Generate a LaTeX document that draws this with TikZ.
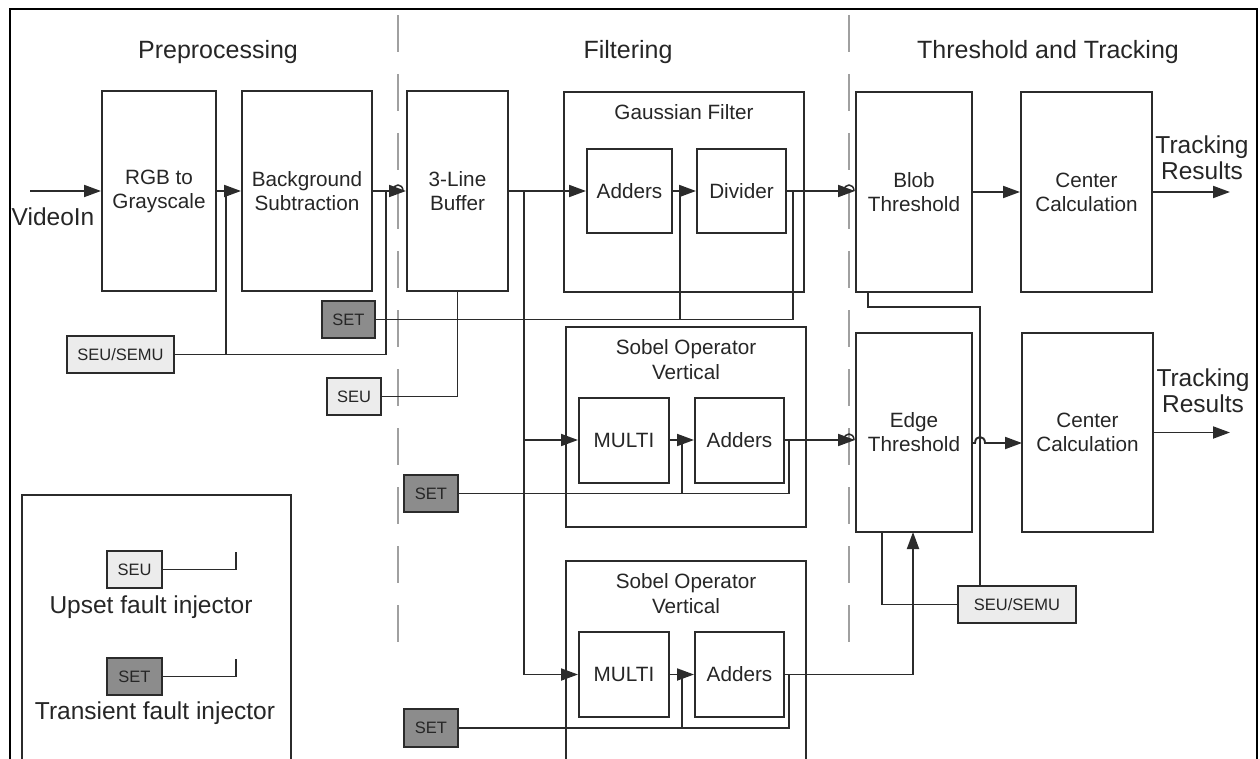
\documentclass[tikz,border=0pt]{standalone}
\usepackage{fontspec}
\setmainfont{Liberation Sans}
\usetikzlibrary{arrows.meta}
\definecolor{seufill}{HTML}{ECECEC}
\definecolor{setfill}{HTML}{8C8C8C}
\definecolor{linec}{HTML}{2B2B2B}
\definecolor{txtc}{HTML}{262626}
\definecolor{sepc}{HTML}{A0A0A0}
\begin{document}
\begin{tikzpicture}[x=1pt,y=-1pt,
  blk/.style={draw=linec,line width=2pt,inner sep=0pt,align=center,text=txtc,
    font=\fontsize{20.7}{24}\selectfont},
  grp/.style={draw=linec,line width=2pt,inner sep=0pt},
  ttl/.style={text=txtc,align=center,inner sep=0pt,font=\fontsize{20.7}{25}\selectfont},
  sect/.style={text=txtc,inner sep=0pt,font=\fontsize{25}{30}\selectfont},
  lbl/.style={text=txtc,align=center,inner sep=0pt,font=\fontsize{24.5}{26}\selectfont},
  seubox/.style={draw=linec,line width=1.8pt,fill=seufill,inner sep=0pt,text=txtc,
    font=\fontsize{16.5}{18}\selectfont},
  setbox/.style={draw=linec,line width=1.8pt,fill=setfill,inner sep=0pt,text=txtc,
    font=\fontsize{16.5}{18}\selectfont},
  conn/.style={draw=linec,line width=1.9pt},
  arr/.style={conn,-{Triangle[length=17pt,width=12pt]}},
  sepline/.style={draw=sepc,line width=1.6pt,dash pattern=on 37pt off 22pt},
  hop/.style={draw=linec,line width=1.5pt}]
\useasboundingbox (0,0) rectangle (1260,759);

% outer frame
\draw[draw=black,line width=2pt] (10,765) -- (10,9) -- (1257,9) -- (1257,765);

% separators
\draw[sepline] (398,15) -- (398,655);
\draw[sepline] (849,15) -- (849,655);

% section titles
\node[sect] (tpre) at (218,52) {Preprocessing};
\node[sect] (tfil) at (628,52) {Filtering};
\node[sect] (ttrk) at (1048,52) {Threshold and Tracking};

% group boxes
\node[grp,minimum width=240pt,minimum height=200pt] (gauss) at (684,192) {};
\node[ttl] (gtitle) at (684,112) {Gaussian Filter};
\node[grp,minimum width=240pt,minimum height=200pt] (sob1) at (686,427) {};
\node[ttl] (s1title) at (686,360) {Sobel Operator\\Vertical};
\node[grp,minimum width=240pt,minimum height=229pt] (sob2) at (686,675.5) {};
\node[ttl] (s2title) at (686,594) {Sobel Operator\\Vertical};
\node[grp,minimum width=269pt,minimum height=300pt] (legend) at (156.5,645) {};

% blocks
\node[blk,minimum width=114pt,minimum height=200pt] (rgb) at (159,191) {RGB to\\Grayscale};
\node[blk,minimum width=130pt,minimum height=200pt] (bg) at (307,191) {Background\\Subtraction};
\node[blk,minimum width=101pt,minimum height=200pt] (buf) at (457.5,191) {3-Line\\Buffer};
\node[blk,minimum width=85pt,minimum height=84pt] (gadd) at (629.5,191) {Adders};
\node[blk,minimum width=89pt,minimum height=84pt] (gdiv) at (741.5,191) {Divider};
\node[blk,minimum width=116pt,minimum height=200pt] (blob) at (914,192) {Blob\\Threshold};
\node[blk,minimum width=131pt,minimum height=200pt] (cc1) at (1086.5,192) {Center\\Calculation};
\node[blk,minimum width=90pt,minimum height=85pt] (m1) at (624,440) {MULTI};
\node[blk,minimum width=89pt,minimum height=85pt] (a1) at (739.5,440) {Adders};
\node[blk,minimum width=90pt,minimum height=85pt] (m2) at (624,674.5) {MULTI};
\node[blk,minimum width=89pt,minimum height=85pt] (a2) at (739.5,674.5) {Adders};
\node[blk,minimum width=116pt,minimum height=199pt] (edge) at (914,432.5) {Edge\\Threshold};
\node[blk,minimum width=131pt,minimum height=199pt] (cc2) at (1087.5,432.5) {Center\\Calculation};

% injectors
\node[seubox,minimum width=107pt,minimum height=37pt] (semu1) at (120.5,354.5) {SEU/SEMU};
\node[setbox,minimum width=53pt,minimum height=37pt] (set1) at (348.5,319.5) {SET};
\node[seubox,minimum width=54pt,minimum height=37pt] (seu1) at (354,396.5) {SEU};
\node[setbox,minimum width=54pt,minimum height=37pt] (set2) at (431,493.5) {SET};
\node[setbox,minimum width=54pt,minimum height=38pt] (set3) at (431,728) {SET};
\node[seubox,minimum width=118pt,minimum height=37pt] (semu2) at (1017,604.5) {SEU/SEMU};

% legend
\node[seubox,minimum width=55pt,minimum height=37pt] (lseu) at (134.5,569.5) {SEU};
\node[lbl] (lseut) at (151,607) {Upset fault injector};
\node[setbox,minimum width=55pt,minimum height=37pt] (lset) at (134.5,676.5) {SET};
\node[lbl] (lsett) at (155,713) {Transient fault injector};
\coordinate (lseuend) at (236,552);
\coordinate (lsetend) at (236,659);
\draw[conn] (lseu.east) -| (lseuend);
\draw[conn] (lset.east) -| (lsetend);

% labels
\node[lbl] (vin) at (53,217) {VideoIn};
\node[lbl] (tr1) at (1202,158) {Tracking\\Results};
\node[lbl] (tr2) at (1203,391) {Tracking\\Results};
\coordinate (vinstart) at (30,191);
\coordinate (out1) at (1230,192);
\coordinate (out2) at (1230,432.5);

% main flow
\draw[arr] (vinstart) -- (rgb.west);
\draw[arr] (rgb.east) -- (bg.west);
\draw[arr] (bg.east) -- (buf.west);
\draw[arr] (buf.east) -- (gadd.west);
\draw[arr] (gadd.east) -- (gdiv.west);
\draw[arr] (gdiv.east) -- (blob.west |- gdiv.east);
\draw[arr] (blob.east) -- (cc1.west);
\draw[arr] (cc1.east) -- (out1);
\coordinate (j1) at (524,191);
\draw[arr] (j1) |- (m1.west);
\draw[arr] (j1) |- (m2.west);
\draw[arr] (m1.east) -- (a1.west);
\draw[arr] (m2.east) -- (a2.west);
\draw[arr] (a1.east) -- (edge.west |- a1.east);
\coordinate (e2in) at (913,532);
\draw[arr] (a2.east) -| (e2in);
\coordinate (e1) at (972,443);
\coordinate (e1a) at (975,443);
\coordinate (e1b) at (985,443);
\coordinate (e1c) at (1022,443);
\draw[arr] (e1) -- (e1a) .. controls (975,435) and (985,435) .. (e1b) -- (e1c);
\draw[arr] (cc2.east) -- (out2);

% line hops over the separators
\draw[hop] (393,191) .. controls (393,183) and (403,183) .. (403,191);
\draw[hop] (844,191) .. controls (844,183) and (854,183) .. (854,191);
\draw[hop] (844,440) .. controls (844,432) and (854,432) .. (854,440);

% fault injection lines
\coordinate (p226a) at (226,354.5);
\coordinate (p226b) at (226,191);
\coordinate (p386) at (386,191);
\draw[conn] (semu1.east) -| (p386);
\draw[conn] (p226a) -- (p226b);

\coordinate (p793) at (793,191);
\coordinate (p680a) at (680,319.5);
\coordinate (p680b) at (680,191);
\draw[conn] (set1.east) -| (p793);
\draw[conn] (p680a) -- (p680b);

\draw[conn] (seu1.east) -| (buf.south);

\coordinate (p789a) at (789,440);
\coordinate (p682a) at (682,493.5);
\coordinate (p682b) at (682,440);
\draw[conn] (set2.east) -| (p789a);
\draw[conn] (p682a) -- (p682b);

\coordinate (p789b) at (789,674.5);
\coordinate (p682c) at (682,728);
\coordinate (p682d) at (682,674.5);
\draw[conn] (set3.east) -| (p789b);
\draw[conn] (p682c) -- (p682d);

\coordinate (bl1) at (868,292);
\coordinate (bl2) at (980,307);
\coordinate (bl3) at (980,586);
\draw[conn] (bl1) |- (bl2) -- (bl3);
\coordinate (ed1) at (882,532);
\draw[conn] (semu2.west) -| (ed1);
\end{tikzpicture}
\end{document}
